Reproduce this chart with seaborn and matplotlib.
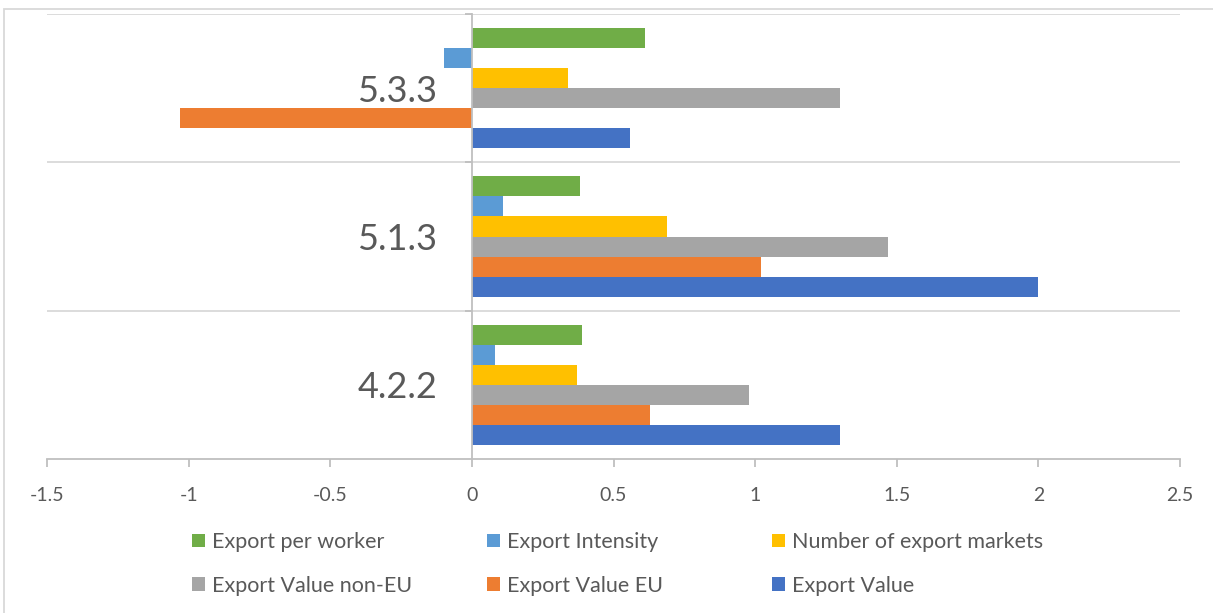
import matplotlib
matplotlib.use("Agg")
import matplotlib.pyplot as plt
import matplotlib.patches as mpatches
import seaborn as sns
import pandas as pd

categories = ["5.3.3", "5.1.3", "4.2.2"]
series = ["Export per worker", "Export Intensity", "Number of export markets",
          "Export Value non-EU", "Export Value EU", "Export Value"]
export_per_worker = [0.61, 0.38, 0.39]
export_intensity = [-0.10, 0.11, 0.08]
number_of_markets = [0.34, 0.69, 0.37]
export_value_non_eu = [1.30, 1.47, 0.98]
export_value_eu = [-1.03, 1.02, 0.63]
export_value = [0.56, 2.00, 1.30]
x_ticks = [-1.5, -1, -0.5, 0, 0.5, 1, 1.5, 2, 2.5]
colors = ["#70AD47", "#5B9BD5", "#FFC000", "#A5A5A5", "#ED7D31", "#4472C4"]

values = [export_per_worker, export_intensity, number_of_markets,
          export_value_non_eu, export_value_eu, export_value]
rows = []
for s, vals in zip(series, values):
    for c, v in zip(categories, vals):
        rows.append({"Category": c, "Series": s, "Value": v})
df = pd.DataFrame(rows)

sns.set_style("white")
plt.rcParams["font.family"] = ["Lato", "DejaVu Sans"]
text_color = "#595959"

fig = plt.figure(figsize=(12.13, 6.13), dpi=100)
ax = fig.add_axes([47/1213, 1-459/613, (1180-47)/1213, (459-14)/613])

sns.barplot(data=df, y="Category", x="Value", hue="Series", order=categories,
            hue_order=series, palette=colors, orient="h", width=0.81,
            saturation=1, ax=ax, legend=True, linewidth=0, edgecolor="none")

ax.set_xlim(-1.5, 2.5)
ax.set_ylim(2.5, -0.5)
ax.set_xticks(x_ticks)
ax.set_xticklabels([f"{t:g}" for t in x_ticks], fontsize=14, color=text_color)
ax.set_xlabel("")
ax.set_ylabel("")

for sp in ["top", "right"]:
    ax.spines[sp].set_visible(False)
ax.spines["left"].set_position(("data", 0))
ax.spines["left"].set_color("#BFBFBF")
ax.spines["left"].set_linewidth(1.3)
ax.spines["bottom"].set_color("#BFBFBF")
ax.spines["bottom"].set_linewidth(1.3)

ax.tick_params(axis="x", which="major", length=6, width=1.3, color="#BFBFBF",
               direction="out", pad=14, bottom=True)
ax.tick_params(axis="y", which="major", length=0, pad=25, labelsize=26,
               labelcolor=text_color, left=True)
ax.set_yticks([-0.5, 0.5, 1.5], minor=True)
ax.tick_params(axis="y", which="minor", length=5, width=1.3, color="#BFBFBF",
               direction="out", left=True)
ax.grid(axis="y", which="minor", color="#D9D9D9", linewidth=1.3)
ax.grid(axis="x", which="major", visible=False)
ax.set_axisbelow(True)

handles, labels = ax.get_legend_handles_labels()
ax.get_legend().remove()
cols = [(series[0], series[3]), (series[1], series[4]), (series[2], series[5])]
xs = [192/1213, 487/1213, 772/1213]
for (a, b), x in zip(cols, xs):
    h = [mpatches.Patch(color=colors[series.index(a)], linewidth=0),
         mpatches.Patch(color=colors[series.index(b)], linewidth=0)]
    leg = fig.legend(h, [a, b], loc="upper left", bbox_to_anchor=(x, 1-532/613),
                     frameon=False, fontsize=15.5, handlelength=0.6, handleheight=0.6,
                     handletextpad=0.35, labelspacing=1.1, borderaxespad=0,
                     borderpad=0)
    for t in leg.get_texts():
        t.set_color(text_color)

border = mpatches.Rectangle((4/1213, -0.05), 1.1, 1-9/613+0.05,
                            transform=fig.transFigure, fill=False,
                            edgecolor="#D9D9D9", linewidth=1.3)
fig.patches.append(border)

fig.savefig("out.png", dpi=100)
